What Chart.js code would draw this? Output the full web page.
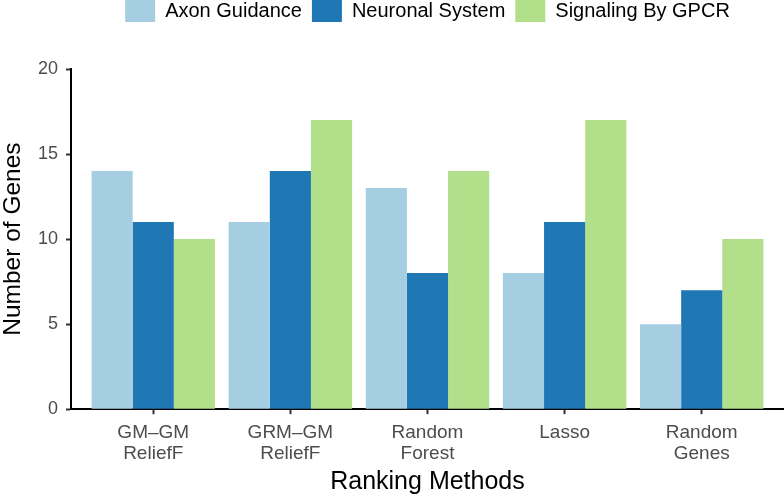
<!DOCTYPE html>
<html>
<head>
<meta charset="utf-8">
<script src="https://cdn.jsdelivr.net/npm/chart.js@4"></script>
<style>
  html, body { margin: 0; padding: 0; background: #fff; }
  #wrap { width: 784px; height: 495px; }
</style>
</head>
<body>
<div id="wrap"><canvas id="chart"></canvas></div>
<script>
const methods = [['GM–GM', 'ReliefF'], ['GRM–GM', 'ReliefF'], ['Random', 'Forest'], ['Lasso'], ['Random', 'Genes']];
const seriesNames = ['Axon Guidance', 'Neuronal System', 'Signaling By GPCR'];
const axonGuidance = [14, 11, 13, 8, 5];
const neuronalSystem = [11, 14, 8, 11, 7];
const signalingGPCR = [10, 17, 14, 17, 10];
const yTicks = [0, 5, 10, 15, 20];

const colors = ['#A6CEE3', '#1F78B4', '#B2DF8A'];
const font = 'Liberation Sans, Arial, Helvetica, sans-serif';

const toPoints = vals => vals.map((v, i) => ({ x: i, y: v }));

// legend sits flush with the top edge, plot area starts lower down
const legendToTop = {
  id: 'legendToTop',
  afterLayout(chart) {
    const lg = chart.legend;
    const shift = lg.top + 10;
    lg.top -= shift;
    lg.bottom -= shift;
  },
};

new Chart(document.getElementById('chart'), {
  type: 'bar',
  data: {
    datasets: [axonGuidance, neuronalSystem, signalingGPCR].map((vals, i) => ({
      label: seriesNames[i],
      data: toPoints(vals),
      backgroundColor: colors[i],
      borderWidth: 0,
      categoryPercentage: 0.9,
      barPercentage: 1.0,
    })),
  },
  options: {
    responsive: true,
    maintainAspectRatio: false,
    animation: false,
    layout: { padding: 0 },
    plugins: {
      tooltip: { enabled: false },
      legend: {
        position: 'top',
        fullSize: false,
        labels: {
          boxWidth: 30,
          boxHeight: 22,
          padding: 10,
          color: '#000',
          font: { family: font, size: 20 },
        },
      },
    },
    scales: {
      x: {
        type: 'linear',
        offset: false,
        min: -0.6,
        max: 4.6,
        afterBuildTicks: axis => { axis.ticks = methods.map((m, i) => ({ value: i })); },
        ticks: {
          autoSkip: false,
          maxRotation: 0,
          color: '#4D4D4D',
          padding: 8,
          font: { family: font, size: 19, lineHeight: 1.1 },
          callback: value => methods[value],
        },
        grid: { display: true, offset: false, drawOnChartArea: false, drawTicks: true, tickLength: 5, tickWidth: 2, color: '#333' },
        border: { display: true, color: '#000', width: 2 },
        title: { display: true, text: 'Ranking Methods', color: '#000', font: { family: font, size: 25, lineHeight: 0.84 }, padding: { top: 0, bottom: 2 } },
      },
      y: {
        min: 0,
        max: 20,
        afterBuildTicks: axis => { axis.ticks = yTicks.map(v => ({ value: v })); },
        afterFit: axis => { axis.paddingTop = 69; },
        ticks: { color: '#4D4D4D', padding: 8, font: { family: font, size: 18 } },
        grid: { display: true, drawOnChartArea: false, drawTicks: true, tickLength: 5, tickWidth: 2, color: '#333' },
        border: { display: true, color: '#000', width: 2 },
        title: { display: true, text: 'Number of Genes', color: '#000', font: { family: font, size: 24.5, lineHeight: 1.1 }, padding: { top: 0, bottom: 3 } },
      },
    },
  },
  plugins: [legendToTop],
});
</script>
</body>
</html>
